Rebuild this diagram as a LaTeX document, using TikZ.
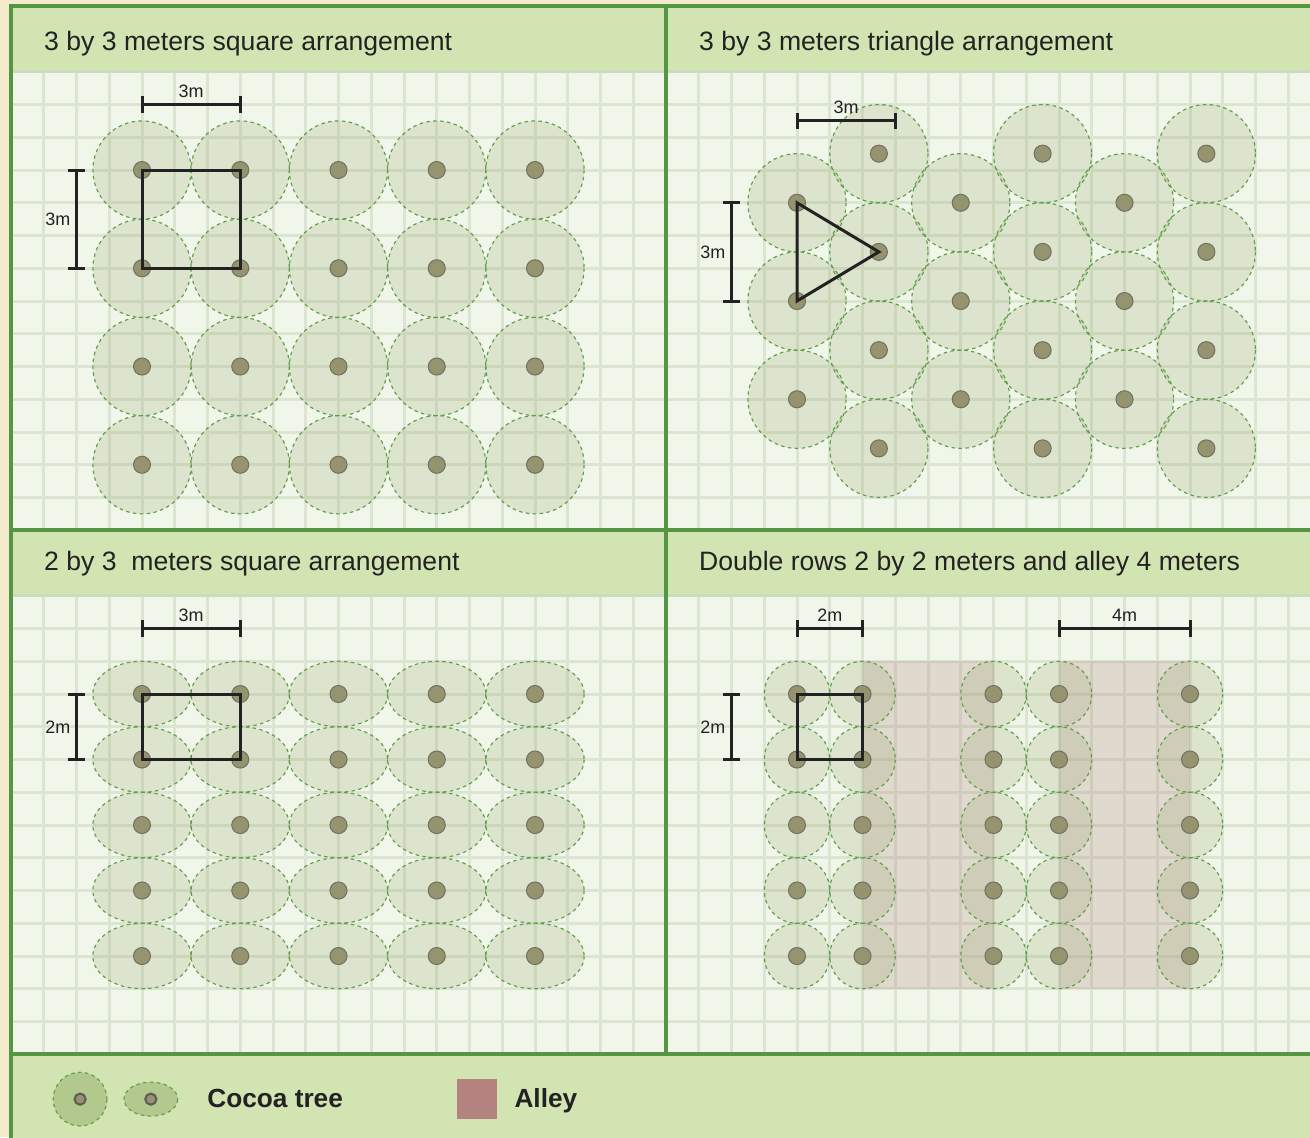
\documentclass[tikz,border=0pt]{standalone}
\usepackage{fontspec}
\setmainfont{Liberation Sans}

\definecolor{parchment}{HTML}{F4EBCD}
\definecolor{cellbg}{HTML}{F0F6E9}
\definecolor{gridgray}{HTML}{DCE4D2}
\definecolor{bandgreen}{HTML}{D1E4B2}
\definecolor{bandedge}{HTML}{CCDBBE}
\definecolor{framegreen}{HTML}{549644}
\definecolor{crowngreen}{HTML}{8FA060}
\definecolor{dashgreen}{HTML}{5F9E4B}
\definecolor{trunkfill}{HTML}{96946E}
\definecolor{trunkline}{HTML}{727264}
\definecolor{alleypink}{HTML}{B4837F}
\definecolor{legendcrown}{HTML}{B2C88C}
\definecolor{legendring}{HTML}{615C5C}
\definecolor{ink}{HTML}{222222}

\tikzset{
  gridrule/.style={draw=gridgray, line width=1.3pt},
  frameline/.style={draw=framegreen, line width=1.7pt},
  crown/.style={fill=crowngreen, fill opacity=0.2, draw=dashgreen,
    line width=0.5pt, dash pattern=on 1.5pt off 1.5pt},
  trunk/.style={fill=trunkfill, draw=trunkline, line width=0.45pt},
  rowline/.style={draw=ink, line width=1.3pt, line join=miter},
  dimline/.style={draw=ink, line width=1.3pt},
  dimlabel/.style={font=\fontsize{7.8}{9}\selectfont, text=ink, inner sep=1.5pt},
  headtext/.style={font=\fontsize{11.55}{13}\selectfont, text=ink,
    inner sep=0pt, anchor=base west},
  legtext/.style={font=\fontsize{11.4}{13}\selectfont\bfseries, text=ink,
    inner sep=0pt, anchor=base west}
}

\begin{document}
\begin{tikzpicture}[x=0.5cm, y=-0.5cm]
  \useasboundingbox (-0.336,-0.191) rectangle (39.664,34.527);

  % --- Helper: \cocoa{name}{x}{y}{x radius}{y radius} ---
  % One tree: dashed crown with its trunk dot, centre kept as (name).
  \newcommand{\cocoa}[5]{%
    \coordinate (#1) at (#2,#3);
    \draw[crown] (#1) ellipse [x radius=#4, y radius=#5];
    \draw[trunk] (#1) circle [radius=0.26];}
  % --- Helper: \dimh{name}{x1}{x2}{y}{label} and \dimv{name}{x}{y1}{y2}{label} ---
  \newcommand{\dimh}[5]{%
    \coordinate (#1-a) at (#2,#4);
    \coordinate (#1-b) at (#3,#4);
    \draw[dimline] (#1-a) -- node[dimlabel, above=1pt] (#1-t) {#5} (#1-b);
    \draw[dimline] ([yshift=3.5pt]#1-a) -- ([yshift=-3.5pt]#1-a);
    \draw[dimline] ([yshift=3.5pt]#1-b) -- ([yshift=-3.5pt]#1-b);}
  \newcommand{\dimv}[5]{%
    \coordinate (#1-a) at (#2,#3);
    \coordinate (#1-b) at (#2,#4);
    \draw[dimline] (#1-a) -- node[dimlabel, left=0.5pt] (#1-t) {#5} (#1-b);
    \draw[dimline] ([xshift=-3.5pt]#1-a) -- ([xshift=3.5pt]#1-a);
    \draw[dimline] ([xshift=-3.5pt]#1-b) -- ([xshift=3.5pt]#1-b);}

  % background, paper and grid (one metre per cell)
  \fill[parchment] (-0.336,-0.191) rectangle (39.664,34.527);
  \fill[cellbg] (0,0) rectangle (40,34.6);
  \foreach \x in {1,...,39}
    \draw[gridrule] (\x,0) -- (\x,34.6);
  \foreach \y in {1,...,34}
    \draw[gridrule] (0,\y) -- (40,\y);

  % header bands and legend band
  \fill[bandgreen] (0,0) rectangle (40,2);
  \fill[bandgreen] (0,16) rectangle (40,18);
  \fill[bandgreen] (0,32) rectangle (40,34.6);
  \draw[bandedge, line width=1.3pt] (0,2) -- (40,2) (0,18) -- (40,18);

  % alleys
  \fill[alleypink, fill opacity=0.25] (26,20) rectangle (30,30);
  \fill[alleypink, fill opacity=0.25] (32,20) rectangle (36,30);

  % 3 by 3 square
  \foreach \i/\x in {1/4,2/7,3/10,4/13,5/16}
    \foreach \j/\y in {1/5,2/8,3/11,4/14}
      {\cocoa{sq-\i-\j}{\x}{\y}{1.5}{1.5}}
  \draw[rowline] (sq-1-1) -- (sq-2-1) -- (sq-2-2) -- (sq-1-2) -- cycle;
  \dimh{sqw}{4}{7}{3}{3m}
  \dimv{sqh}{2}{5}{8}{3m}

  % 3 by 3 triangle
  \foreach \i/\x in {1/24,3/29,5/34}
    \foreach \j/\y in {1/6,2/9,3/12}
      {\cocoa{tr-\i-\j}{\x}{\y}{1.5}{1.5}}
  \foreach \i/\x in {2/26.5,4/31.5,6/36.5}
    \foreach \j/\y in {1/4.5,2/7.5,3/10.5,4/13.5}
      {\cocoa{tr-\i-\j}{\x}{\y}{1.5}{1.5}}
  \draw[rowline] (tr-1-1) -- (tr-2-2) -- (tr-1-2) -- cycle;
  \dimh{trw}{24}{27}{3.5}{3m}
  \dimv{trh}{22}{6}{9}{3m}

  % 2 by 3 square
  \foreach \i/\x in {1/4,2/7,3/10,4/13,5/16}
    \foreach \j/\y in {1/21,2/23,3/25,4/27,5/29}
      {\cocoa{rc-\i-\j}{\x}{\y}{1.5}{1}}
  \draw[rowline] (rc-1-1) -- (rc-2-1) -- (rc-2-2) -- (rc-1-2) -- cycle;
  \dimh{rcw}{4}{7}{19}{3m}
  \dimv{rch}{2}{21}{23}{2m}

  % double rows with alleys
  \foreach \i/\x in {1/24,2/26,3/30,4/32,5/36}
    \foreach \j/\y in {1/21,2/23,3/25,4/27,5/29}
      {\cocoa{dr-\i-\j}{\x}{\y}{1}{1}}
  \draw[rowline] (dr-1-1) -- (dr-2-1) -- (dr-2-2) -- (dr-1-2) -- cycle;
  \dimh{drw}{24}{26}{19}{2m}
  \dimh{alw}{32}{36}{19}{4m}
  \dimv{drh}{22}{21}{23}{2m}

  % frame
  \draw[frameline] (0,34.6) -- (0,0) -- (40,0);
  \draw[frameline] (20,0) -- (20,32);
  \draw[frameline] (0,16) -- (40,16);
  \draw[frameline] (0,32) -- (40,32);

  % titles
  \node[headtext] (t-sq) at (1,1.36) {3 by 3 meters square arrangement};
  \node[headtext] (t-tr) at (21,1.36) {3 by 3 meters triangle arrangement};
  \node[headtext] (t-rc) at (1,17.24) {2 by 3\ \ meters square arrangement};
  \node[headtext] (t-dr) at (21,17.24) {Double rows 2 by 2 meters and alley 4 meters};

  % legend
  \coordinate (leg-a) at (2.11,33.37);
  \coordinate (leg-b) at (4.27,33.37);
  \draw[crown, fill=legendcrown, fill opacity=1] (leg-a) ellipse [x radius=0.82, y radius=0.82];
  \draw[crown, fill=legendcrown, fill opacity=1] (leg-b) ellipse [x radius=0.82, y radius=0.52];
  \draw[fill=trunkfill, draw=legendring, line width=0.9pt] (leg-a) circle [radius=0.17];
  \draw[fill=trunkfill, draw=legendring, line width=0.9pt] (leg-b) circle [radius=0.17];
  \node[legtext] (leg-cocoa) at (5.98,33.64) {Cocoa tree};
  \fill[alleypink] (13.62,32.76) rectangle (14.84,33.98);
  \node[legtext] (leg-alley) at (15.36,33.64) {Alley};
\end{tikzpicture}
\end{document}
